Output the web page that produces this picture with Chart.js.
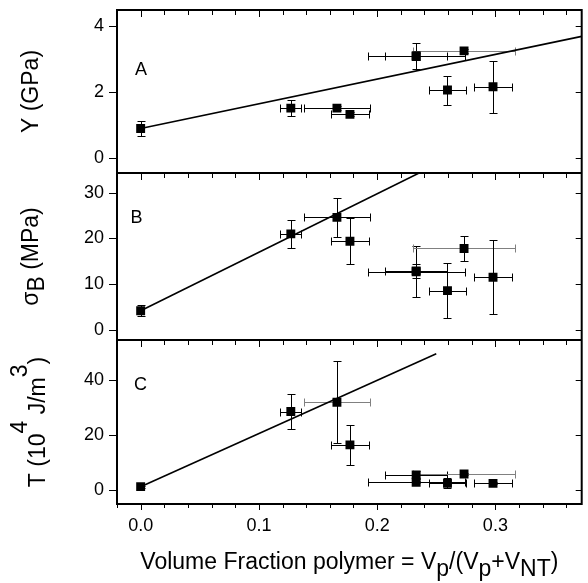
<!DOCTYPE html>
<html>
<head>
<meta charset="utf-8">
<script src="https://cdn.jsdelivr.net/npm/chart.js@4.4.1/dist/chart.umd.min.js"></script>
<style>
  html, body { margin: 0; padding: 0; background: #fff; }
  #wrap { width: 588px; height: 583px; }
</style>
</head>
<body>
<div id="wrap"><canvas id="chart" width="588" height="583"></canvas></div>
<script>
// polymer volume fraction of each sample and its uncertainty
const volFrac    = [0.0, 0.127, 0.166, 0.177, 0.233, 0.233, 0.2595, 0.2735, 0.298];
const volFracErr = [0,   0.009, 0.028, 0.016, 0.026, 0.041, 0.016,  0.043,  0.016];

// A: modulus Y (GPa)
const modulus    = [0.90, 1.52, 1.52, 1.33, 3.11, 3.09, 2.07, 3.26, 2.17];
const modulusErr = [0.24, 0.24, 0.06, 0.06, 0.40, 0.10, 0.44, 0.06, 0.79];

// B: strength sigma_B (MPa)
const strength    = [4.2, 21.0, 24.6, 19.4, 12.9, 12.7, 8.6, 17.8, 11.5];
const strengthErr = [1.2, 3.1,  4.2,  5.0,  1.5,  5.6,  6.1, 2.7,  8.1];

// C: toughness T (10^4 J/m^3)
const toughness    = [1.2, 28.5, 31.9, 16.4, 5.5, 2.8, 2.4, 5.8, 2.4];
const toughnessErr = [0.4, 6.2,  15.0, 7.2,  1.5, 0.4, 1.8, 0.4, 0.4];

// straight fit lines, end points
const fitAx = [0, 0.373],  fitAy = [0.9, 3.7];
const fitBx = [0, 0.2355], fitBy = [4.2, 34.3];
const fitCx = [0, 0.250],  fitCy = [1.2, 49.5];

const FONT = '"Liberation Sans", Arial, sans-serif';

function pts(xs, ys) {
  return xs.map((x, i) => ({ x: x, y: ys[i] }));
}

function pointSet(vals, errs, axis, greyX) {
  return {
    type: 'scatter',
    data: pts(volFrac, vals),
    yAxisID: axis,
    pointStyle: 'rect',
    pointRadius: 6.3,
    backgroundColor: '#000',
    borderWidth: 0,
    xErr: volFracErr,
    yErr: errs,
    greyX: greyX
  };
}

function fitLine(xs, ys, axis) {
  return {
    type: 'line',
    data: pts(xs, ys),
    yAxisID: axis,
    borderColor: '#000',
    borderWidth: 1.6,
    pointRadius: 0,
    fill: false
  };
}

function seg(ctx, x0, y0, x1, y1) {
  ctx.moveTo(x0, y0);
  ctx.lineTo(x1, y1);
}

// error bars with caps, drawn under the squares
const errorBars = {
  id: 'errorBars',
  beforeDatasetsDraw(chart) {
    const ctx = chart.ctx;
    const xs = chart.scales.x;
    chart.data.datasets.forEach(ds => {
      if (!ds.yErr) return;
      const ys = chart.scales[ds.yAxisID];
      ds.data.forEach((p, i) => {
        const px = Math.round(xs.getPixelForValue(p.x)) + 0.5;
        const py = Math.round(ys.getPixelForValue(p.y)) + 0.5;
        ctx.save();
        ctx.lineWidth = 1;
        if (ds.xErr[i] > 0) {
          const x0 = Math.round(xs.getPixelForValue(p.x - ds.xErr[i])) + 0.5;
          const x1 = Math.round(xs.getPixelForValue(p.x + ds.xErr[i])) + 0.5;
          ctx.strokeStyle = ds.greyX.includes(i) ? '#808080' : '#000';
          ctx.beginPath();
          seg(ctx, x0, py, x1, py);
          seg(ctx, x0, py - 4, x0, py + 4);
          seg(ctx, x1, py - 4, x1, py + 4);
          ctx.stroke();
        }
        if (ds.yErr[i] > 0) {
          const y0 = Math.round(ys.getPixelForValue(p.y - ds.yErr[i])) + 0.5;
          const y1 = Math.round(ys.getPixelForValue(p.y + ds.yErr[i])) + 0.5;
          ctx.strokeStyle = '#000';
          ctx.beginPath();
          seg(ctx, px, y0, px, y1);
          seg(ctx, px - 4, y0, px + 4, y0);
          seg(ctx, px - 4, y1, px + 4, y1);
          ctx.stroke();
        }
        ctx.restore();
      });
    });
  }
};

function drawRich(ctx, parts, cx, y) {
  let w = 0;
  parts.forEach(p => {
    ctx.font = (p.size || 23) + 'px ' + FONT;
    p.w = ctx.measureText(p.t).width;
    w += p.w;
  });
  let x = cx - w / 2;
  parts.forEach(p => {
    ctx.font = (p.size || 23) + 'px ' + FONT;
    ctx.fillText(p.t, x, y + (p.dy || 0));
    x += p.w;
  });
}

// frame, dividers, tick marks, titles, panel letters
const frame = {
  id: 'frame',
  afterDraw(chart) {
    const ctx = chart.ctx;
    const area = chart.chartArea;
    const xs = chart.scales.x;
    const panels = ['yA', 'yB', 'yC'].map(id => chart.scales[id]);
    const L = area.left, R = area.right;

    ctx.save();
    ctx.strokeStyle = '#000';
    ctx.lineWidth = 1;
    ctx.beginPath();
    panels.forEach(s => {
      s.ticks.forEach(t => {
        const y = Math.round(s.getPixelForValue(t.value)) + 0.5;
        const major = t.label !== '';
        seg(ctx, L - (major ? 8 : 5), y, L, y);
        seg(ctx, R - (major ? 6 : 4), y, R, y);
      });
      xs.ticks.forEach(t => {
        const x = Math.round(xs.getPixelForValue(t.value)) + 0.5;
        const major = t.label !== '';
        seg(ctx, x, s.top, x, s.top + (major ? 7 : 5));
      });
    });
    xs.ticks.forEach(t => {
      const x = Math.round(xs.getPixelForValue(t.value)) + 0.5;
      const major = t.label !== '';
      seg(ctx, x, area.bottom, x, area.bottom + (major ? 6 : 4));
    });
    ctx.stroke();

    ctx.lineWidth = 2;
    ctx.strokeRect(L, area.top, R - L, area.bottom - area.top);
    ctx.beginPath();
    panels.slice(1).forEach(s => seg(ctx, L, s.top, R, s.top));
    ctx.stroke();

    ctx.fillStyle = '#000';

    // panel letters
    ctx.font = '18px ' + FONT;
    ctx.textAlign = 'center';
    ctx.textBaseline = 'middle';
    ctx.fillText('A', 141, panels[0].top + 60);
    ctx.fillText('B', 136.5, panels[1].top + 45.5);
    ctx.fillText('C', 140.5, panels[2].top + 45);
    ctx.textAlign = 'left';
    ctx.textBaseline = 'alphabetic';

    // x title
    drawRich(ctx, [
      { t: 'Volume Fraction polymer = V' }, { t: 'p', dy: 7 }, { t: '/(V' },
      { t: 'p', dy: 7 }, { t: '+V' }, { t: 'NT', dy: 7 }, { t: ')' }
    ], (L + R) / 2, 569);

    // y titles
    const yTitles = [
      { x: 38, parts: [{ t: 'Y (GPa)' }] },
      { x: 38, parts: [{ t: 'σ' }, { t: 'B', dy: 6 }, { t: ' (MPa)' }] },
      { x: 45, parts: [{ t: 'T (10' }, { t: '4', dy: -18 }, { t: ' J/m' }, { t: '3', dy: -18 }, { t: ')' }] }
    ];
    yTitles.forEach((yt, k) => {
      const s = panels[k];
      ctx.save();
      ctx.translate(yt.x, (s.top + s.bottom) / 2);
      ctx.rotate(-Math.PI / 2);
      drawRich(ctx, yt.parts, 0, 0);
      ctx.restore();
    });
    ctx.restore();
  }
};

function noPad(s) {
  s.paddingTop = 0;
  s.paddingBottom = 0;
  s.paddingLeft = 0;
  s.paddingRight = 0;
}

function yScale(min, max, step, labelEvery, weight) {
  return {
    type: 'linear',
    position: 'left',
    stack: 'panels',
    stackWeight: weight,
    min: min,
    max: max,
    afterFit: s => { s.width = 117; noPad(s); },
    grid: { display: false, drawTicks: false },
    border: { display: false },
    ticks: {
      stepSize: step,
      includeBounds: false,
      padding: 13,
      color: '#000',
      font: { family: FONT, size: 18 },
      callback: v => (Math.abs(v % labelEvery) < 1e-9 ? String(v) : '')
    }
  };
}

new Chart(document.getElementById('chart'), {
  type: 'scatter',
  data: {
    datasets: [
      pointSet(modulus, modulusErr, 'yA', [7]),
      pointSet(strength, strengthErr, 'yB', [7]),
      pointSet(toughness, toughnessErr, 'yC', [2, 7]),
      fitLine(fitAx, fitAy, 'yA'),
      fitLine(fitBx, fitBy, 'yB'),
      fitLine(fitCx, fitCy, 'yC')
    ]
  },
  options: {
    responsive: false,
    animation: false,
    layout: { padding: { left: 0, right: 3, top: 10, bottom: 0 } },
    plugins: { legend: { display: false }, tooltip: { enabled: false } },
    scales: {
      x: {
        type: 'linear',
        position: 'bottom',
        min: -0.02,
        max: 0.373,
        afterFit: s => { s.height = 79; noPad(s); },
        grid: { display: false, drawTicks: false },
        border: { display: false },
        ticks: {
          stepSize: 0.02,
          includeBounds: false,
          autoSkip: false,
          maxRotation: 0,
          padding: 11,
          color: '#000',
          font: { family: FONT, size: 18 },
          callback: v => {
            const t = v * 10;
            return v >= 0 && Math.abs(t - Math.round(t)) < 1e-6 ? v.toFixed(1) : '';
          }
        }
      },
      // stacked axes are laid out bottom-up in definition order
      yC: yScale(-5.1, 54.5, 10, 20, 164),
      yB: yScale(-2.2, 34.3, 5, 10, 167),
      yA: yScale(-0.45, 4.5, 1, 2, 163)
    }
  },
  plugins: [errorBars, frame]
});
</script>
</body>
</html>
